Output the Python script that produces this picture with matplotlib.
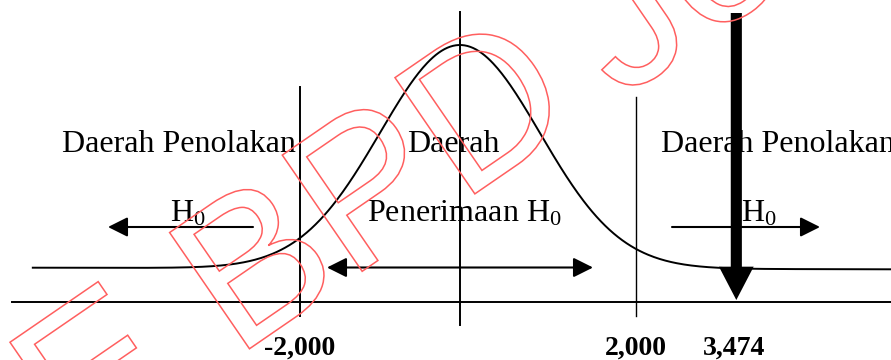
#!/usr/bin/env python3
"""Sketsa uji t dua sisi: daerah penerimaan / penolakan H0."""
import numpy as np
import matplotlib
matplotlib.use("Agg")
import matplotlib.pyplot as plt
from matplotlib.patches import PathPatch
from matplotlib.textpath import TextPath
from matplotlib.font_manager import FontProperties
from matplotlib.transforms import Affine2D

# nilai uji
t_tabel = 2.000
t_hitung = 3.474
label_tabel = ["-2,000", "2,000"]
label_hitung = "3,474"
teks_daerah = ["Daerah Penolakan", "Daerah", "Daerah Penolakan"]
teks_h0 = ["H$_0$", "Penerimaan H$_0$", "H$_0$"]
watermark = ["E BPD", "Jo"]

plt.rcParams["font.family"] = ["Liberation Serif", "DejaVu Serif"]
plt.rcParams["mathtext.fontset"] = "custom"
plt.rcParams["mathtext.rm"] = "Liberation Serif"
plt.rcParams["mathtext.default"] = "rm"


def main():
    fig = plt.figure(figsize=(8.91, 3.6), dpi=100)
    ax = fig.add_axes([0, 0, 1, 1])
    # x in t units (sketch scale), y in pixels from the bottom
    ax.set_xlim(-5.75, 5.3875)
    ax.set_ylim(0, 360)
    ax.axis("off")

    # sumbu dan garis batas
    ax.plot([-5.6, 5.4], [58, 58], color="k", lw=1.4)
    ax.plot([0, 0], [35, 348], color="k", lw=1.4)
    ax.plot([-t_tabel, -t_tabel], [44, 273], color="k", lw=1.4)
    x_kanan = t_tabel + 0.2  # drawn a little right of scale in the sketch
    ax.plot([x_kanan, x_kanan], [44, 263], color="k", lw=1.0)

    # kurva distribusi
    t = np.linspace(-5.34, 5.4, 600)
    base = 91.5 - 0.15 * t
    ax.plot(t, base + 223.5 * np.exp(-t ** 2 / 2), color="k", lw=1.4)

    # panah kecil
    kecil = dict(arrowstyle="-|>,head_length=12,head_width=6", mutation_scale=1,
                 lw=1.5, color="k", shrinkA=0, shrinkB=0)
    ax.annotate("", xy=(-4.4, 133), xytext=(-2.5875, 133), arrowprops=kecil)
    ax.annotate("", xy=(4.5, 133), xytext=(2.65, 133), arrowprops=kecil)
    dua = dict(kecil, arrowstyle="<|-|>,head_length=12,head_width=6")
    ax.annotate("", xy=(1.6625, 92.5), xytext=(-1.6625, 92.5), arrowprops=dua)

    # panah t hitung
    besar = dict(arrowstyle="simple,head_length=24,head_width=25,tail_width=8",
                 mutation_scale=1, color="k", lw=0, shrinkA=0, shrinkB=0)
    ax.annotate("", xy=(t_hitung - 0.02, 60), xytext=(t_hitung - 0.02, 347),
                arrowprops=besar)

    # teks
    for x, s in zip([-4.975, -0.6625, 2.5125], teks_daerah):
        ax.text(x, 208, s, fontsize=23, ha="left", va="baseline")
    for x, s in zip([-3.625, -1.1625, 3.5125], teks_h0):
        ax.text(x, 138, s, fontsize=23, ha="left", va="baseline")
    for x, s in zip([-t_tabel, x_kanan], label_tabel):
        ax.text(x, 5, s, fontsize=20, fontweight="bold", ha="center", va="baseline")
    ax.text(t_hitung - 0.05, 5, label_hitung, fontsize=20, fontweight="bold",
            ha="center", va="baseline")

    # watermark merah bergaris tepi (pixel coordinates of the figure)
    fp = FontProperties(family="Liberation Sans")
    for s, (x0, y0) in zip(watermark, [(76, -108), (619, 259.5)]):
        tp = TextPath((0, 0), s, size=205, prop=fp)
        tr = Affine2D().rotate_deg(34.5).translate(x0, y0)
        fig.add_artist(PathPatch(tp, transform=tr, facecolor="none",
                                 edgecolor="#ff5f5f", lw=1.1, zorder=10))

    fig.savefig("out.png", dpi=100)


if __name__ == "__main__":
    main()
